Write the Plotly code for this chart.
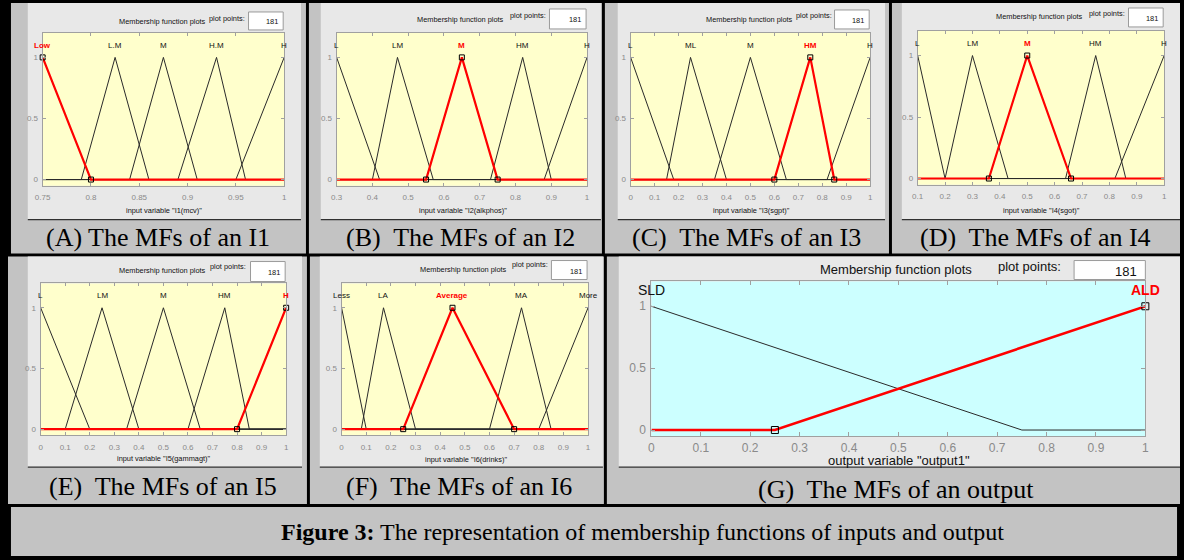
import plotly.graph_objects as go

W, H = 1184, 560

# ---------------- data ----------------
A_range = [0.75, 1.0]
A_ticks = [0.75, 0.8, 0.85, 0.9, 0.95, 1.0]
A_names = ["Low", "L.M", "M", "H.M", "H"]
A_params = [[0.70, 0.75, 0.80], [0.79, 0.825, 0.86], [0.84, 0.875, 0.91], [0.89, 0.93, 0.96], [0.95, 1.0, 1.05]]
A_sel = 0
A_xlabel = 'input variable "I1(mcv)"'
A_caption = "(A) The MFs of an I1"

B_range = [0.3, 1.0]
B_ticks = [0.3, 0.4, 0.5, 0.6, 0.7, 0.8, 0.9, 1.0]
B_names = ["L", "LM", "M", "HM", "H"]
B_params = [[0.18, 0.3, 0.42], [0.40, 0.47, 0.57], [0.55, 0.65, 0.75], [0.73, 0.82, 0.90], [0.88, 1.0, 1.12]]
B_sel = 2
B_xlabel = 'input variable "I2(alkphos)"'
B_caption = "(B)\u00a0 The MFs of an I2"

C_range = [0.0, 1.0]
C_ticks = [0, 0.1, 0.2, 0.3, 0.4, 0.5, 0.6, 0.7, 0.8, 0.9, 1.0]
C_names = ["L", "ML", "M", "HM", "H"]
C_params = [[-0.18, 0.0, 0.18], [0.15, 0.25, 0.40], [0.35, 0.50, 0.65], [0.60, 0.75, 0.85], [0.82, 1.0, 1.18]]
C_sel = 3
C_xlabel = 'input variable "I3(sgpt)"'
C_caption = "(C)\u00a0 The MFs of an I3"

D_range = [0.1, 1.0]
D_ticks = [0.1, 0.2, 0.3, 0.4, 0.5, 0.6, 0.7, 0.8, 0.9, 1.0]
D_names = ["L", "LM", "M", "HM", "H"]
D_params = [[0.0, 0.1, 0.2], [0.2, 0.3, 0.43], [0.36, 0.50, 0.66], [0.64, 0.75, 0.86], [0.82, 1.0, 1.18]]
D_sel = 2
D_xlabel = 'input variable "I4(sgot)"'
D_caption = "(D)\u00a0 The MFs of an I4"

E_range = [0.0, 1.0]
E_ticks = [0, 0.1, 0.2, 0.3, 0.4, 0.5, 0.6, 0.7, 0.8, 0.9, 1.0]
E_names = ["L", "LM", "M", "HM", "H"]
E_params = [[-0.2, 0.0, 0.2], [0.10, 0.25, 0.40], [0.35, 0.50, 0.65], [0.60, 0.75, 0.85], [0.80, 1.0, 1.2]]
E_sel = 4
E_xlabel = 'input variable "I5(gammagt)"'
E_caption = "(E)\u00a0 The MFs of an I5"

F_range = [0.0, 1.0]
F_ticks = [0, 0.1, 0.2, 0.3, 0.4, 0.5, 0.6, 0.7, 0.8, 0.9, 1.0]
F_names = ["Less", "LA", "Average", "MA", "More"]
F_params = [[-0.1, 0.0, 0.10], [0.08, 0.17, 0.30], [0.25, 0.45, 0.70], [0.60, 0.73, 0.85], [0.80, 1.0, 1.2]]
F_sel = 2
F_xlabel = 'input variable "I6(drinks)"'
F_caption = "(F)\u00a0 The MFs of an I6"

G_range = [0.0, 1.0]
G_ticks = [0, 0.1, 0.2, 0.3, 0.4, 0.5, 0.6, 0.7, 0.8, 0.9, 1.0]
G_names = ["SLD", "ALD"]
G_params = [[-0.75, 0.0, 0.75], [0.25, 1.0, 1.75]]
G_sel = 1
G_xlabel = 'output variable "output1"'
G_caption = "(G)\u00a0 The MFs of an output"

Y_ticks = [0, 0.5, 1]
Y_ticktext = ["0", "0.5", "1"]
PLOT_POINTS = "181"
FIG_CAPTION = "<b>Figure 3:</b> The representation of membership functions of inputs and output"

# ---------------- layout geometry (pixels) ----------------
panels = [
    dict(rng=A_range, ticks=A_ticks, names=A_names, params=A_params, sel=A_sel, xl=A_xlabel, cap=A_caption,
         plot=(35, 279, 33, 186), light=(20, 296, 3, 220), mfp=(156, 22), pp=(221, 19), box=(243, 278, 12, 30),
         xly=211, capxy=(152, 238), big=False, bg="#ffffcc"),
    dict(rng=B_range, ticks=B_ticks, names=B_names, params=B_params, sel=B_sel, xl=B_xlabel, cap=B_caption,
         plot=(332, 585, 33, 186), light=(316, 599, 3, 220), mfp=(457, 20), pp=(525, 16), box=(547, 584, 9, 29),
         xly=211, capxy=(457, 238), big=False, bg="#ffffcc"),
    dict(rng=C_range, ticks=C_ticks, names=C_names, params=C_params, sel=C_sel, xl=C_xlabel, cap=C_caption,
         plot=(629, 871, 33, 186), light=(616, 886, 3, 220), mfp=(749, 20), pp=(814, 16), box=(835, 870, 10, 29),
         xly=211, capxy=(746, 238), big=False, bg="#ffffcc"),
    dict(rng=D_range, ticks=D_ticks, names=D_names, params=D_params, sel=D_sel, xl=D_xlabel, cap=D_caption,
         plot=(919, 1168, 31, 185), light=(903, 1184, 3, 220), mfp=(1042, 17), pp=(1110, 14), box=(1132, 1167, 8, 27),
         xly=211, capxy=(1038, 238), big=False, bg="#ffffcc"),
    dict(rng=E_range, ticks=E_ticks, names=E_names, params=E_params, sel=E_sel, xl=E_xlabel, cap=E_caption,
         plot=(33, 281, 284, 436), light=(20, 297, 257, 468), mfp=(156, 271), pp=(222, 267), box=(245, 280, 262, 282),
         xly=459, capxy=(157, 487), big=False, bg="#ffffcc"),
    dict(rng=F_range, ticks=F_ticks, names=F_names, params=F_params, sel=F_sel, xl=F_xlabel, cap=F_caption,
         plot=(337, 586, 284, 436), light=(315, 601, 257, 468), mfp=(460, 270), pp=(527, 265), box=(549, 585, 261, 280),
         xly=460, capxy=(456, 487), big=False, bg="#ffffcc"),
    dict(rng=G_range, ticks=G_ticks, names=G_names, params=G_params, sel=G_sel, xl=G_xlabel, cap=G_caption,
         plot=(650, 1149, 282, 437), light=(617, 1184, 257, 468), mfp=(897, 270), pp=(1032, 267), box=(1077, 1149, 261, 280),
         xly=461, capxy=(897, 490), big=True, bg="#ccffff"),
]

cells = [(3, 301, 3, 254), (304, 600, 3, 254), (603, 890, 3, 254), (893, 1184, 3, 254),
         (0, 302, 257, 505), (305, 602, 257, 505), (605, 1184, 257, 505), (3, 1181, 508, 557)]

def px(x):
    return x / W

def py(y):
    return 1 - y / H

SANS = "Liberation Sans, Arial, sans-serif"
SERIF = "Liberation Serif, Times New Roman, serif"

fig = go.Figure()
shapes = []
annotations = []

for c in cells:
    shapes.append(dict(type="rect", xref="paper", yref="paper", x0=px(c[0]), x1=px(c[1]), y0=py(c[3]), y1=py(c[2]),
                       fillcolor="#c3c3c3", line=dict(width=0), layer="below"))

for i, p in enumerate(panels, start=1):
    lx0, lx1, ly0, ly1 = p["light"]
    shapes.append(dict(type="rect", xref="paper", yref="paper", x0=px(lx0), x1=px(lx1), y0=py(ly1), y1=py(ly0),
                       fillcolor="#e8e8e8", line=dict(width=0), layer="below"))
    shapes.append(dict(type="line", xref="paper", yref="paper", x0=px(lx0), x1=px(lx1), y0=py(ly1), y1=py(ly1),
                       line=dict(color="#303030", width=1.2), layer="below"))
    x0, x1, y0, y1 = p["plot"]
    shapes.append(dict(type="rect", xref="paper", yref="paper", x0=px(x0), x1=px(x1), y0=py(y1), y1=py(y0),
                       fillcolor=p["bg"], line=dict(width=0), layer="below"))
    bx0, bx1, by0, by1 = p["box"]
    shapes.append(dict(type="rect", xref="paper", yref="paper", x0=px(bx0), x1=px(bx1), y0=py(by1), y1=py(by0),
                       fillcolor="white", line=dict(color="#9a9a9a", width=1), layer="below"))

    big = p["big"]
    fs_small = 13 if big else 7.4
    fs_tick = 12 if big else 8
    xa = "x" if i == 1 else f"x{i}"
    ya = "y" if i == 1 else f"y{i}"
    lo, hi = p["rng"]

    # black MFs first, selected red on top
    order = [k for k in range(len(p["params"])) if k != p["sel"]] + [p["sel"]]
    for k in order:
        a, b, c = p["params"][k]
        xs = [min(lo, a), a, b, c, max(hi, c)]
        ys = [0, 0, 1, 0, 0]
        sel = (k == p["sel"])
        fig.add_trace(go.Scatter(x=xs, y=ys, mode="lines", xaxis=xa, yaxis=ya, showlegend=False, hoverinfo="skip",
                                 line=dict(color="#ff0000" if sel else "#2a2a2a", width=(2.6 if big else 2.2) if sel else 1)))
    a, b, c = p["params"][p["sel"]]
    mk_x = [v for v in (a, b, c) if lo <= v <= hi]
    mk_y = [[0, 1, 0][j] for j, v in enumerate((a, b, c)) if lo <= v <= hi]
    fig.add_trace(go.Scatter(x=mk_x, y=mk_y, mode="markers", xaxis=xa, yaxis=ya, showlegend=False, hoverinfo="skip",
                             cliponaxis=False,
                             marker=dict(symbol="square-open", size=7 if big else 5, color="black", line=dict(width=1))))

    # MF labels
    for k, name in enumerate(p["names"]):
        sel = (k == p["sel"])
        annotations.append(dict(xref=xa, yref=ya, x=p["params"][k][1], y=1.135 if big else 1.1, showarrow=False,
                                text=f"<b>{name}</b>" if sel else name,
                                font=dict(family=SANS, size=14 if big else 8, color="#ff0000" if sel else "#111"),
                                xanchor="center", yanchor="middle"))

    axis_common = dict(showgrid=False, zeroline=False, showline=True, linecolor="#a0a0a0", linewidth=1,
                       mirror="ticks", ticks="inside", ticklen=3 if not big else 4, tickcolor="#a0a0a0",
                       tickfont=dict(family=SANS, size=fs_tick, color="#8a8a8a"), fixedrange=True)
    fig.update_layout(**{
        ("xaxis" if i == 1 else f"xaxis{i}"): dict(
            domain=[px(x0), px(x1)], anchor=ya, range=[lo, hi], tickmode="array",
            tickvals=p["ticks"], ticktext=[f"{v:g}" for v in p["ticks"]],
            ticklabelstandoff=0 if big else 4, **axis_common),
        ("yaxis" if i == 1 else f"yaxis{i}"): dict(
            domain=[py(y1), py(y0)], anchor=xa, range=[-0.05, 1.2], tickmode="array",
            tickvals=Y_ticks, ticktext=Y_ticktext, ticklabelstandoff=2, **axis_common),
    })

    # panel texts
    annotations.append(dict(xref="paper", yref="paper", x=px(p["mfp"][0]), y=py(p["mfp"][1]), showarrow=False,
                            text="Membership function plots", font=dict(family=SANS, size=fs_small, color="#111"),
                            xanchor="center", yanchor="middle"))
    annotations.append(dict(xref="paper", yref="paper", x=px(p["pp"][0]), y=py(p["pp"][1]), showarrow=False,
                            text="plot points:", font=dict(family=SANS, size=fs_small, color="#111"),
                            xanchor="center", yanchor="middle"))
    annotations.append(dict(xref="paper", yref="paper", x=px(bx1 - (6 if big else 3)), y=py((by0 + by1) / 2 + 1),
                            showarrow=False, text=PLOT_POINTS, font=dict(family=SANS, size=fs_small, color="#111"),
                            xanchor="right", yanchor="middle"))
    annotations.append(dict(xref="paper", yref="paper", x=px((x0 + x1) / 2 + 1), y=py(p["xly"]), showarrow=False,
                            text=p["xl"], font=dict(family=SANS, size=fs_small, color="#111"),
                            xanchor="center", yanchor="middle"))
    annotations.append(dict(xref="paper", yref="paper", x=px(p["capxy"][0]), y=py(p["capxy"][1]), showarrow=False,
                            text=p["cap"], font=dict(family=SERIF, size=26, color="#000"),
                            xanchor="center", yanchor="middle"))

annotations.append(dict(xref="paper", yref="paper", x=px(641), y=py(533), showarrow=False, text=FIG_CAPTION,
                        font=dict(family=SERIF, size=24, color="#000"), xanchor="center", yanchor="middle"))

fig.update_layout(width=W, height=H, autosize=False, margin=dict(l=0, r=0, t=0, b=0, pad=0),
                  paper_bgcolor="#000000", plot_bgcolor="rgba(0,0,0,0)",
                  shapes=shapes, annotations=annotations, showlegend=False)

fig.write_html("out.html", config={"displayModeBar": False},
               post_script="document.body.style.margin='0';document.body.style.padding='0';")
